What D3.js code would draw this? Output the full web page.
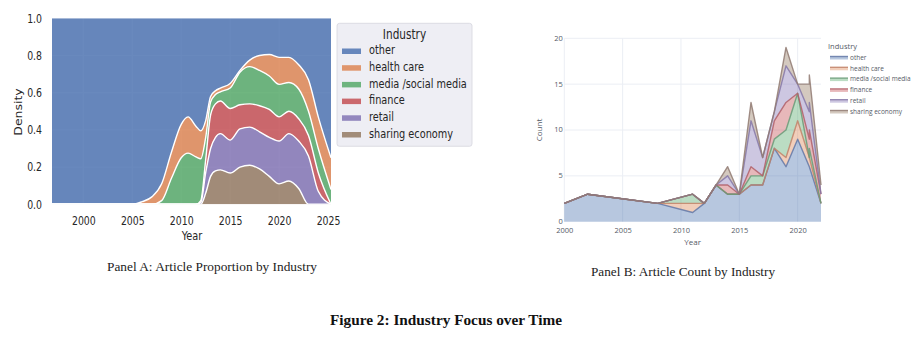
<!DOCTYPE html>
<html><head><meta charset="utf-8">
<script src="https://cdn.jsdelivr.net/npm/d3@7"></script>
<style>body{margin:0;background:#fff;} svg{display:block}</style>
</head><body>
<svg id="chart" width="924" height="339"></svg>
<script>
// ---------- shared ----------
const industries = ["other","health care","media /social media","finance","retail","sharing economy"];
const industryColors = ["#4c72b0","#dd8452","#55a868","#c44e52","#8172b3","#937860"];

// ---------- Panel A: KDE proportion (share of density per industry) ----------
const kdeYears      = [1996.8,2005,2006,2007,2008,2009,2010,2010.7,2011.5,2012,2012.5,2013,2013.5,2014,2015,2016,2017,2018,2019,2020,2021,2022,2023,2024,2025.3];
const shareOther    = [1,1,0.986,0.96,0.89,0.72,0.57,0.53,0.58,0.605,0.55,0.42,0.39,0.375,0.35,0.28,0.225,0.20,0.195,0.21,0.21,0.25,0.33,0.53,0.75];
const shareHealth   = [0,0,0.014,0.04,0.09,0.14,0.18,0.195,0.165,0.15,0.09,0.03,0.02,0.02,0.025,0.01,0.035,0.08,0.115,0.145,0.135,0.13,0.17,0.17,0.17];
const shareMedia    = [0,0,0,0,0.02,0.14,0.25,0.275,0.255,0.225,0.12,0.07,0.05,0.05,0.11,0.175,0.20,0.19,0.18,0.175,0.155,0.16,0.13,0.13,0.08];
const shareFinance  = [0,0,0,0,0,0,0,0,0,0.01,0.07,0.18,0.18,0.175,0.17,0.13,0.125,0.14,0.15,0.13,0.12,0.12,0.11,0.10,0];
const shareRetail   = [0,0,0,0,0,0,0,0,0,0.01,0.11,0.15,0.18,0.195,0.177,0.205,0.205,0.20,0.21,0.23,0.255,0.255,0.26,0.07,0];
const shareSharing  = [0,0,0,0,0,0,0,0,0,0,0.06,0.15,0.18,0.185,0.168,0.20,0.21,0.19,0.15,0.11,0.125,0.085,0,0,0];
const densityTicks  = [0,0.2,0.4,0.6,0.8,1.0];
const yearTicksA    = [2000,2005,2010,2015,2020,2025];

// ---------- Panel B: article counts ----------
const countYears    = [2000,2002,2008,2011,2012,2013,2014,2015,2016,2017,2018,2019,2020,2021,2021,2022];
const countOther    = [2,3,2,1,2,4,3,3,4,4,8,6,9,6,6,2];
const countHealth   = [0,0,0,1,0,0,0,0,0,0,0,1,2,1,1,0];
const countMedia    = [0,0,0,1,0,0,0,0,1,1,1,3,3,0,1,0];
const countFinance  = [0,0,0,0,0,0,1,0,1,0,2,3,0,2,2,1];
const countRetail   = [0,0,0,0,0,0,1,0,5,2,1,4,1,3,3,0];
const countSharing  = [0,0,0,0,0,0,1,0,2,0,0,2,0,3,3,1];
const countTicks    = [0,5,10,15,20];
const yearTicksB    = [2000,2005,2010,2015,2020];

const svg = d3.select("#chart");
const SQ = 0.78; // horizontal squeeze of panel A lettering

// ================= PANEL A =================
const A = {l:52, r:331, t:18.3, b:204.3};
const xA = d3.scaleLinear().domain([1996.8, 2025.3]).range([A.l, A.r]);
const yA = d3.scaleLinear().domain([0,1]).range([A.b, A.t]);
const sansA = "'DejaVu Sans', sans-serif";

const rowsA = kdeYears.map((yr,i)=>({year:yr,
  "other":shareOther[i], "health care":shareHealth[i], "media /social media":shareMedia[i],
  "finance":shareFinance[i], "retail":shareRetail[i], "sharing economy":shareSharing[i]}));
const stackKeysA = ["sharing economy","retail","finance","media /social media","health care","other"];
const layersA = d3.stack().keys(stackKeysA)(rowsA);
const colorOf = k => industryColors[industries.indexOf(k)];

svg.append("defs").append("clipPath").attr("id","clipA")
  .append("rect").attr("x",A.l).attr("y",A.t).attr("width",A.r-A.l).attr("height",A.b-A.t);

const gA = svg.append("g");
gA.append("rect").attr("x",A.l).attr("y",A.t).attr("width",A.r-A.l).attr("height",A.b-A.t).attr("fill","#eaeaf2");
gA.append("g").selectAll("line").data(yearTicksA.filter(d=>d<2025)).join("line")
  .attr("x1",d=>xA(d)).attr("x2",d=>xA(d)).attr("y1",A.t).attr("y2",A.b)
  .attr("stroke","#fff").attr("stroke-width",1);
gA.append("g").selectAll("line").data(densityTicks).join("line")
  .attr("x1",A.l).attr("x2",A.r).attr("y1",d=>yA(d)).attr("y2",d=>yA(d))
  .attr("stroke","#fff").attr("stroke-width",1);

const areaA = d3.area().x(d=>xA(d.data.year)).y0(d=>yA(d[0])).y1(d=>yA(d[1])).curve(d3.curveMonotoneX);
const lineA = d3.line().x(d=>xA(d.data.year)).y(d=>yA(d[1])).curve(d3.curveMonotoneX);
const plotA = gA.append("g").attr("clip-path","url(#clipA)");
plotA.selectAll("path.area").data(layersA).join("path").attr("class","area")
  .attr("d",areaA).attr("fill",d=>colorOf(d.key)).attr("fill-opacity",0.84);
plotA.selectAll("path.edge").data(layersA.filter(l=>l.key!=="other")).join("path").attr("class","edge")
  .attr("d",lineA).attr("fill","none").attr("stroke","#fff").attr("stroke-width",1.4);

const axA_x = gA.append("g").attr("transform",`translate(0,${A.b})`)
  .call(d3.axisBottom(xA).tickValues(yearTicksA).tickFormat(d3.format("d")).tickSize(0).tickPadding(12));
const axA_y = gA.append("g").attr("transform",`translate(${A.l},0)`)
  .call(d3.axisLeft(yA).tickValues(densityTicks).tickFormat(d3.format(".1f")).tickSize(0).tickPadding(10/SQ));
[axA_x, axA_y].forEach(ax=>{
  ax.select(".domain").remove();
  ax.selectAll("text").attr("font-family",sansA).attr("font-size",12).attr("fill","#262626")
    .attr("transform",`scale(${SQ},1)`);
});
gA.append("text").text("Year").attr("text-anchor","middle").attr("font-family",sansA).attr("font-size",12.5)
  .attr("fill","#262626").attr("transform",`translate(192,240) scale(${SQ},1)`);
gA.append("text").text("Density").attr("text-anchor","middle").attr("font-family",sansA).attr("font-size",12.5)
  .attr("fill","#262626").attr("transform",`translate(22,112) scale(${SQ},1) rotate(-90)`);

const legA = gA.append("g");
legA.append("rect").attr("x",337).attr("y",23.3).attr("width",135).attr("height",123).attr("rx",2.5)
  .attr("fill","#eeeef4").attr("stroke","#d6d6de").attr("stroke-width",0.8);
legA.append("text").text("Industry").attr("text-anchor","middle").attr("font-family",sansA).attr("font-size",13.5)
  .attr("fill","#262626").attr("transform",`translate(404.5,38.5) scale(${SQ},1)`);
industries.forEach((name,i)=>{
  const by = 54.3 + i*16.7;
  legA.append("rect").attr("x",342).attr("y",by-5.8).attr("width",19).attr("height",5.5)
    .attr("fill",industryColors[i]).attr("fill-opacity",0.84);
  legA.append("text").text(name).attr("font-family",sansA).attr("font-size",12.5).attr("fill","#262626")
    .attr("transform",`translate(369,${by}) scale(${SQ},1)`);
});

// ================= PANEL B =================
const B = {l:564.3, r:821, t:38.3, b:221.7};
const xB = d3.scaleLinear().domain([2000,2022]).range([B.l, B.r]);
const yB = d3.scaleLinear().domain([0,20]).range([B.b, B.t]);
const sansB = "'Open Sans', sans-serif";
const rowsB = countYears.map((yr,i)=>({year:yr,
  "other":countOther[i], "health care":countHealth[i], "media /social media":countMedia[i],
  "finance":countFinance[i], "retail":countRetail[i], "sharing economy":countSharing[i]}));
const layersB = d3.stack().keys(industries)(rowsB);
const lineColorOf = k => d3.interpolateRgb(colorOf(k), "#8c7f92")(0.35);

const gB = svg.append("g");
gB.append("g").selectAll("line").data(yearTicksB).join("line")
  .attr("x1",d=>xB(d)).attr("x2",d=>xB(d)).attr("y1",B.t).attr("y2",B.b)
  .attr("stroke","#ebeef4").attr("stroke-width",1);
gB.append("g").selectAll("line").data(countTicks.filter(d=>d>0)).join("line")
  .attr("x1",B.l).attr("x2",B.r).attr("y1",d=>yB(d)).attr("y2",d=>yB(d))
  .attr("stroke","#ebeef4").attr("stroke-width",1);

const areaB = d3.area().x(d=>xB(d.data.year)).y0(d=>yB(d[0])).y1(d=>yB(d[1]));
const lineB = d3.line().x(d=>xB(d.data.year)).y(d=>yB(d[1]));
gB.selectAll("path.area").data(layersB).join("path").attr("class","area")
  .attr("d",areaB).attr("fill",d=>colorOf(d.key)).attr("fill-opacity",0.4);
gB.selectAll("path.edge").data(layersB).join("path").attr("class","edge")
  .attr("d",lineB).attr("fill","none").attr("stroke",d=>lineColorOf(d.key)).attr("stroke-opacity",0.85)
  .attr("stroke-width",1.4).attr("stroke-linejoin","round");

const axB_x = gB.append("g").attr("transform",`translate(0,${B.b})`)
  .call(d3.axisBottom(xB).tickValues(yearTicksB).tickFormat(d3.format("d")).tickSize(0).tickPadding(5.5));
const axB_y = gB.append("g").attr("transform",`translate(${B.l},0)`)
  .call(d3.axisLeft(yB).tickValues(countTicks).tickFormat(d3.format("d")).tickSize(0).tickPadding(1.5));
[axB_x, axB_y].forEach(ax=>{
  ax.select(".domain").remove();
  ax.selectAll("text").attr("font-family",sansB).attr("font-size",7.5).attr("fill","#555a66");
});
axB_y.selectAll("text").attr("dy","0.25em");
gB.append("text").text("Year").attr("x",692.7).attr("y",244.5).attr("text-anchor","middle")
  .attr("font-family",sansB).attr("font-size",8).attr("fill","#555a66");
gB.append("text").text("Count").attr("text-anchor","middle").attr("font-family",sansB).attr("font-size",8)
  .attr("fill","#555a66").attr("transform","translate(541.5,130) rotate(-90)");

const legB = gB.append("g");
legB.append("text").text("Industry").attr("x",828).attr("y",48.5).attr("font-family",sansB)
  .attr("font-size",7.5).attr("fill","#555a66");
industries.forEach((name,i)=>{
  const by = 59.7 + i*10.8;
  legB.append("rect").attr("x",830).attr("y",by-3.2).attr("width",18).attr("height",3)
    .attr("fill",industryColors[i]).attr("fill-opacity",0.4);
  legB.append("line").attr("x1",830).attr("x2",848).attr("y1",by-3.2).attr("y2",by-3.2)
    .attr("stroke",lineColorOf(industries[i])).attr("stroke-opacity",0.85).attr("stroke-width",1.4);
  legB.append("text").text(name).attr("x",850).attr("y",by).attr("font-family",sansB)
    .attr("font-size",6.5).attr("fill","#555a66");
});

// ================= captions =================
const serif = "'Liberation Serif', 'DejaVu Serif', serif";
svg.append("text").text("Panel A: Article Proportion by Industry").attr("x",107).attr("y",271)
  .attr("font-family",serif).attr("font-size",13).attr("fill","#222")
  .attr("textLength",210).attr("lengthAdjust","spacingAndGlyphs");
svg.append("text").text("Panel B: Article Count by Industry").attr("x",591).attr("y",276)
  .attr("font-family",serif).attr("font-size",13).attr("fill","#222")
  .attr("textLength",184).attr("lengthAdjust","spacingAndGlyphs");
svg.append("text").text("Figure 2: Industry Focus over Time").attr("x",330).attr("y",325)
  .attr("font-family",serif).attr("font-size",14.5).attr("font-weight","bold").attr("fill","#111")
  .attr("textLength",232).attr("lengthAdjust","spacingAndGlyphs");
</script>
</body></html>
